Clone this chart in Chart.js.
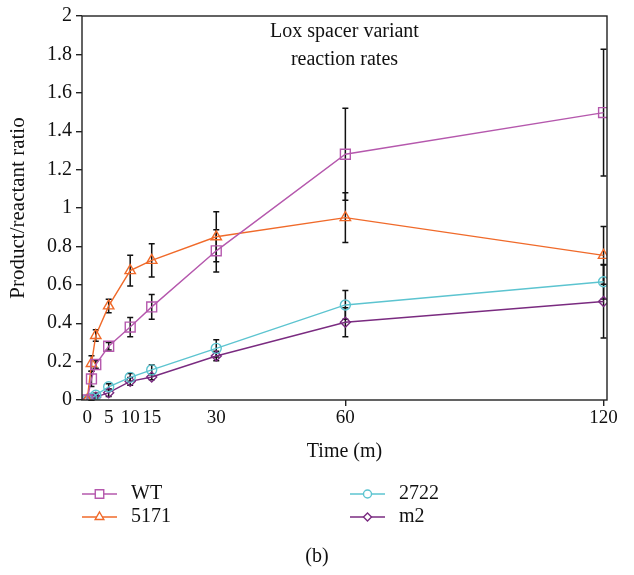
<!DOCTYPE html>
<html>
<head>
<meta charset="utf-8">
<script src="https://cdn.jsdelivr.net/npm/chart.js@4.4.1/dist/chart.umd.min.js"></script>
<style>
  html, body { margin: 0; padding: 0; background: #fff; }
  #wrap { width: 634px; height: 575px; }
</style>
</head>
<body>
<div id="wrap"><canvas id="rateChart" width="634" height="575"></canvas></div>
<script>
// time points (minutes)
const times = [0, 1, 2, 5, 10, 15, 30, 60, 120];
const xTickLabels = [0, 5, 10, 15, 30, 60, 120];

// product/reactant ratio per variant, and error bar half-widths
const wtValues = [0, 0.11, 0.185, 0.28, 0.38, 0.485, 0.777, 1.28, 1.497];
const wtErrors = [0, 0.04, 0.02, 0.02, 0.05, 0.065, 0.11, 0.24, 0.33];
const v5171Values = [0, 0.19, 0.336, 0.49, 0.674, 0.727, 0.85, 0.95, 0.753];
const v5171Errors = [0, 0.04, 0.03, 0.035, 0.08, 0.087, 0.13, 0.13, 0.15];
const v2722Values = [0, 0.01, 0.025, 0.069, 0.118, 0.157, 0.269, 0.495, 0.616];
const v2722Errors = [0, 0.01, 0.01, 0.015, 0.02, 0.025, 0.045, 0.075, 0.09];
const m2Values = [0, 0.005, 0.015, 0.038, 0.097, 0.12, 0.229, 0.405, 0.513];
const m2Errors = [0, 0.005, 0.01, 0.02, 0.02, 0.015, 0.025, 0.075, 0.19];

const serif = "'Liberation Serif', 'DejaVu Serif', serif";

function toPoints(vals) {
    return vals.map((v, i) => ({ x: times[i], y: v }));
}

function makeSet(label, vals, errs, color, style, radius) {
    return {
        label: label,
        data: toPoints(vals),
        errors: errs,
        borderColor: color,
        backgroundColor: 'transparent',
        borderWidth: 1.4,
        pointStyle: style,
        pointRadius: radius,
        pointBorderWidth: 1.4,
        pointBorderColor: color,
        pointBackgroundColor: 'transparent',
        tension: 0
    };
}

// black error bars drawn under the markers
const errorBars = {
    id: 'errorBars',
    beforeDatasetsDraw(chart) {
        const ctx = chart.ctx;
        const xs = chart.scales.x, ys = chart.scales.y;
        ctx.save();
        ctx.strokeStyle = '#111';
        ctx.lineWidth = 1.5;
        chart.data.datasets.forEach(ds => {
            ds.data.forEach((p, i) => {
                const e = ds.errors[i];
                if (!e) return;
                const px = xs.getPixelForValue(p.x);
                const top = ys.getPixelForValue(p.y + e);
                const bot = ys.getPixelForValue(Math.max(0, p.y - e));
                ctx.beginPath();
                ctx.moveTo(px, top); ctx.lineTo(px, bot);
                ctx.moveTo(px - 3, top); ctx.lineTo(px + 3, top);
                ctx.moveTo(px - 3, bot); ctx.lineTo(px + 3, bot);
                ctx.stroke();
            });
        });
        ctx.restore();
    }
};

// frame, inner title, legend and caption
const decorations = {
    id: 'decorations',
    afterDraw(chart) {
        const ctx = chart.ctx;
        const a = chart.chartArea;
        ctx.save();
        ctx.strokeStyle = '#222';
        ctx.lineWidth = 1.4;
        ctx.strokeRect(a.left, a.top, a.right - a.left, a.bottom - a.top);

        ctx.fillStyle = '#111';
        ctx.font = '20px ' + serif;
        ctx.textAlign = 'center';
        ctx.textBaseline = 'middle';
        const cx = (a.left + a.right) / 2;
        ctx.fillText('Lox spacer variant', cx, 32);
        ctx.fillText('reaction rates', cx, 60);

        const slots = [[82, 494], [82, 517], [350, 494], [350, 517]];
        chart.data.datasets.forEach((ds, i) => {
            const [lx, ly] = slots[i];
            ctx.strokeStyle = ds.borderColor;
            ctx.lineWidth = 1.4;
            ctx.beginPath();
            ctx.moveTo(lx, ly); ctx.lineTo(lx + 35, ly);
            ctx.stroke();
            ctx.fillStyle = '#fff';
            Chart.helpers.drawPoint(ctx, {
                pointStyle: ds.pointStyle,
                radius: ds.pointRadius - 1,
                borderWidth: 1.4
            }, lx + 17.5, ly);
            ctx.fillStyle = '#111';
            ctx.textAlign = 'left';
            ctx.fillText(ds.label, lx + 49, ly);
        });

        ctx.textAlign = 'center';
        ctx.fillText('(b)', 317, 557);
        ctx.restore();
    }
};

new Chart(document.getElementById('rateChart'), {
    type: 'line',
    data: {
        datasets: [
            makeSet('WT', wtValues, wtErrors, '#b558ad', 'rect', 7),
            makeSet('5171', v5171Values, v5171Errors, '#f06a2a', 'triangle', 6),
            makeSet('2722', v2722Values, v2722Errors, '#5cc4d0', 'circle', 5),
            makeSet('m2', m2Values, m2Errors, '#7a2b80', 'rectRot', 5)
        ]
    },
    options: {
        responsive: false,
        animation: false,
        layout: { padding: { top: 11, right: 27, bottom: 107, left: 0 } },
        plugins: {
            legend: { display: false },
            tooltip: { enabled: false }
        },
        scales: {
            x: {
                type: 'linear',
                min: -1.2,
                max: 120.8,
                afterBuildTicks: s => { s.ticks = xTickLabels.map(v => ({ value: v })); },
                afterFit: s => { s.height = 68; },
                border: { display: false },
                grid: {
                    drawOnChartArea: false,
                    tickLength: 6,
                    color: c => (c.tick && c.tick.value >= 60) ? '#222' : 'transparent',
                    lineWidth: 1.4
                },
                ticks: {
                    autoSkip: false,
                    maxRotation: 0,
                    padding: 1,
                    color: '#111',
                    font: { family: serif, size: 19 }
                },
                title: {
                    display: true,
                    text: 'Time (m)',
                    color: '#111',
                    font: { family: serif, size: 20 },
                    padding: { top: 3 }
                }
            },
            y: {
                min: 0,
                max: 2,
                afterFit: s => { s.width = 82; },
                border: { display: false },
                grid: {
                    drawOnChartArea: false,
                    tickLength: 6,
                    color: '#222',
                    lineWidth: 1.4
                },
                ticks: {
                    stepSize: 0.2,
                    padding: 4,
                    color: '#111',
                    font: { family: serif, size: 20 },
                    callback: v => +v.toFixed(1)
                },
                title: {
                    display: true,
                    text: 'Product/reactant ratio',
                    color: '#111',
                    font: { family: serif, size: 21 },
                    padding: { bottom: 0, top: 6 }
                }
            }
        }
    },
    plugins: [errorBars, decorations]
});
</script>
</body>
</html>
